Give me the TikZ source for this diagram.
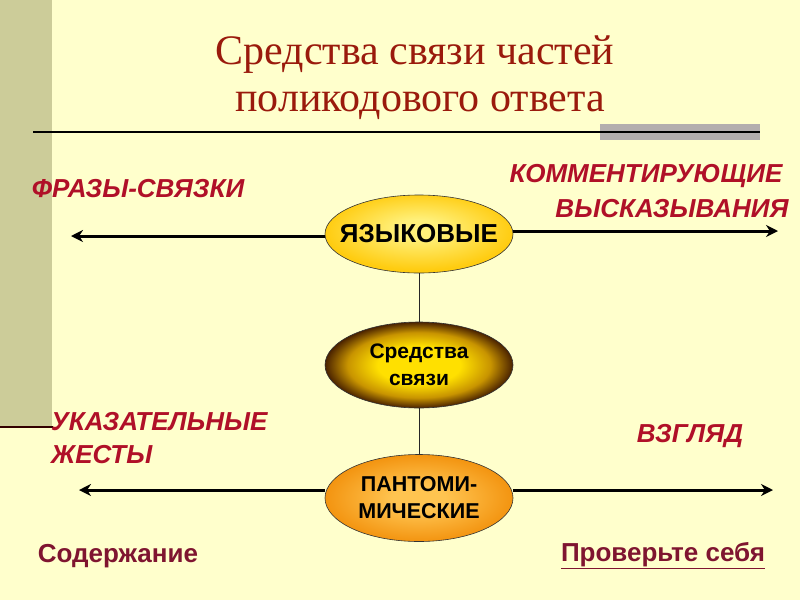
\documentclass[tikz,border=0pt]{standalone}
\usepackage{fontspec}
\setmainfont{Liberation Sans}
\newfontfamily\titlefont{Liberation Serif}
\usetikzlibrary{shapes.geometric,arrows.meta}
\definecolor{bg}{HTML}{FFFFCC}
\definecolor{strip}{HTML}{CCCC99}
\definecolor{titlered}{HTML}{9A1A0C}
\definecolor{labred}{HTML}{B01028}
\definecolor{linkred}{HTML}{7F1530}
\definecolor{graybar}{HTML}{B3AEAE}
\definecolor{ylA}{HTML}{FFF07A}
\definecolor{ylB}{HTML}{FFCC10}
\definecolor{mdA}{HTML}{FFE000}
\definecolor{mdB}{HTML}{C89400}
\definecolor{mdC}{HTML}{4A2200}
\definecolor{orA}{HTML}{FFC450}
\definecolor{orB}{HTML}{F39410}
\pgfdeclareradialshading{langshade}{\pgfpoint{0bp}{4bp}}{color(0bp)=(ylA); color(6bp)=(ylA); color(25bp)=(ylB); color(50bp)=(ylB)}
\pgfdeclareradialshading{midshade}{\pgfpoint{0bp}{0bp}}{color(0bp)=(mdA); color(11bp)=(mdA); color(19bp)=(mdB); color(25bp)=(mdC); color(50bp)=(mdC)}
\pgfdeclareradialshading{pantshade}{\pgfpoint{0bp}{0bp}}{color(0bp)=(orA); color(7bp)=(orA); color(25bp)=(orB); color(50bp)=(orB)}
\tikzset{
  oval/.style={ellipse, draw=black!80, line width=0.6pt, minimum width=188pt, inner sep=0pt},
  ovaltext/.style={align=center, inner sep=0pt, font=\bfseries\fontsize{21}{27}\selectfont},
  lab/.style={text=labred, font=\bfseries\itshape\fontsize{26}{30}\selectfont, align=center, inner sep=0pt},
  link/.style={text=linkred, font=\bfseries\fontsize{26}{30}\selectfont, inner sep=0pt},
  arr/.style={line width=3pt, -{Stealth[length=12pt,width=12pt]}},
  conn/.style={line width=1pt, black!85}
}
\begin{document}
\begin{tikzpicture}[x=1pt,y=-1pt]
\fill[bg] (0,0) rectangle (800,600);
\useasboundingbox (0,0) rectangle (800,600);
\fill[strip] (0,0) rectangle (52,428);
\draw[line width=2pt, color=black!80!red] (0,427) -- (53,427);
\fill[graybar] (600,124) rectangle (760,140);
\draw[line width=2pt] (33,132) -- (760,132);

\node[text=titlered, font=\titlefont\fontsize{42}{46}\selectfont] (t1) at (415,55) {Средства связи частей};
\node[text=titlered, font=\titlefont\fontsize{42}{46}\selectfont] (t2) at (420,106) {поликодового ответа};

\node[oval, minimum height=78pt, shading=langshade] (lang) at (419,234) {};
\node[oval, minimum height=86pt, shading=midshade] (mid) at (419,365) {};
\node[oval, minimum height=87pt, shading=pantshade] (pant) at (419,498) {};
\node[ovaltext, font=\bfseries\fontsize{26}{30}\selectfont] (langt) at (lang.center) {ЯЗЫКОВЫЕ};
\node[ovaltext] (midt) at (mid.center) {Средства\\связи};
\node[ovaltext, font=\bfseries\fontsize{21.5}{27}\selectfont] (pantt) at (pant.center) {ПАНТОМИ-\\МИЧЕСКИЕ};

\draw[conn] (lang) -- (mid);
\draw[conn] (mid) -- (pant);

\coordinate (tl) at (71,236);
\coordinate (tr) at (778,231);
\coordinate (bl) at (79,490);
\coordinate (br) at (773,490);
\draw[arr] (lang.west |- tl) -- (tl);
\draw[arr] (lang.east |- tr) -- (tr);
\draw[arr] (pant.west |- bl) -- (bl);
\draw[arr] (pant.east |- br) -- (br);

\node[lab] (fr) at (138,189) {ФРАЗЫ-СВЯЗКИ};
\node[lab] (kom) at (646,176) {КОММЕНТИРУЮЩИЕ};
\node[lab] (vys) at (672,209) {ВЫСКАЗЫВАНИЯ};
\node[lab, anchor=west] (uk) at (51,422) {УКАЗАТЕЛЬНЫЕ};
\node[lab, anchor=west] (zh) at (51,455) {ЖЕСТЫ};
\node[lab] (vz) at (690,436) {ВЗГЛЯД};

\node[link] (sod) at (118,556) {Содержание};
\node[link] (pro) at (663,556) {\underline{Проверьте себя}};
\end{tikzpicture}
\end{document}
